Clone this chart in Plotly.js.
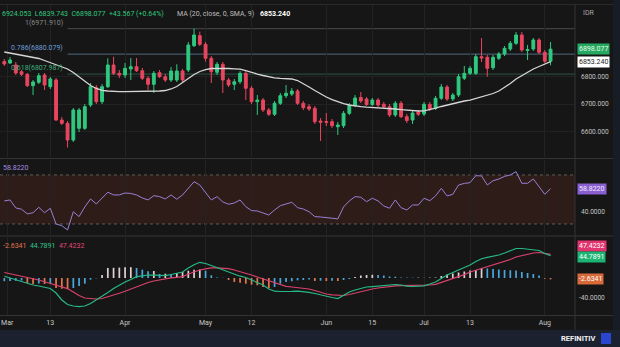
<!DOCTYPE html>
<html><head><meta charset="utf-8">
<script src="https://cdn.plot.ly/plotly-3.0.1.min.js"></script>
<style>html,body{margin:0;padding:0;background:#161616;overflow:hidden}#chart{width:620px;height:347px}</style>
</head><body><div id="chart"></div>
<script>
// ---------- data ----------
const open = [6853.4, 6848.0, 6840.8, 6816.6, 6807.2, 6766.1, 6778.3, 6804.7, 6762.5, 6786.6,
 6642.2, 6630.3, 6570.0, 6612.3, 6612.3, 6696.4, 6758.8, 6708.3, 6762.5, 6840.8,
 6810.8, 6804.7, 6826.4, 6834.7, 6820.2, 6792.8, 6771.1, 6813.0, 6798.6, 6786.6,
 6786.6, 6819.1, 6822.7, 6910.5, 6946.6, 6915.5, 6865.0, 6814.4, 6843.3, 6786.6,
 6771.1, 6780.5, 6810.8, 6756.7, 6708.3, 6714.4, 6678.3, 6662.8, 6702.5, 6730.0,
 6736.1, 6746.9, 6702.5, 6690.3, 6684.5, 6638.6, 6636.8, 6636.1, 6618.1, 6621.7,
 6666.4, 6694.6, 6723.5, 6718.1, 6698.2, 6714.4, 6698.9, 6690.3, 6660.3, 6702.5,
 6654.2, 6642.2, 6671.1, 6663.9, 6698.9, 6684.5, 6720.6, 6761.4, 6718.1, 6732.5,
 6792.8, 6810.8, 6810.8, 6870.8, 6868.6, 6831.0, 6865.0, 6880.5, 6898.6, 6919.1,
 6949.1, 6893.1, 6898.6, 6931.0, 6886.6, 6854.51];
const high = [6862.5, 6869.7, 6851.6, 6822.7, 6811.9, 6786.6, 6811.9, 6811.9, 6797.5, 6793.9,
 6653.1, 6638.6, 6685.6, 6685.6, 6700.0, 6775.8, 6768.6, 6772.2, 6865.0, 6870.8,
 6822.7, 6848.0, 6866.1, 6866.1, 6830.0, 6801.1, 6819.1, 6822.7, 6808.3, 6833.6,
 6843.3, 6826.4, 6923.8, 6971.91, 6961.0, 6923.8, 6873.3, 6851.6, 6851.6, 6793.9,
 6790.3, 6819.1, 6819.1, 6765.0, 6732.5, 6721.7, 6685.6, 6710.8, 6739.7, 6768.6,
 6757.8, 6754.2, 6710.8, 6700.0, 6692.8, 6649.5, 6667.5, 6645.8, 6635.0, 6674.7,
 6703.6, 6732.5, 6743.3, 6725.3, 6721.7, 6721.7, 6707.2, 6700.0, 6710.8, 6710.8,
 6663.9, 6674.7, 6678.3, 6707.2, 6707.2, 6728.9, 6772.2, 6768.6, 6739.7, 6808.3,
 6837.2, 6837.2, 6880.5, 6938.3, 6876.9, 6876.9, 6887.7, 6909.4, 6927.4, 6959.9,
 6959.9, 6913.0, 6938.3, 6938.3, 6894.9, 6924.053];
const low = [6837.2, 6844.4, 6804.7, 6801.1, 6761.4, 6732.5, 6772.2, 6750.5, 6754.2, 6638.6,
 6624.2, 6542.793, 6562.8, 6598.9, 6606.1, 6689.2, 6700.0, 6700.0, 6757.8, 6804.7,
 6793.9, 6793.9, 6786.6, 6815.5, 6786.6, 6750.5, 6739.7, 6793.9, 6779.4, 6779.4,
 6779.4, 6779.4, 6815.5, 6905.8, 6909.4, 6852.7, 6775.8, 6804.7, 6739.7, 6761.4,
 6750.5, 6772.2, 6714.4, 6700.0, 6660.3, 6671.1, 6656.7, 6656.7, 6696.4, 6721.7,
 6728.9, 6696.4, 6678.3, 6674.7, 6627.8, 6566.4, 6620.6, 6613.4, 6588.1, 6613.4,
 6660.3, 6689.2, 6703.6, 6692.8, 6692.8, 6689.2, 6685.6, 6653.1, 6653.1, 6649.5,
 6631.4, 6627.8, 6656.7, 6656.7, 6674.7, 6678.3, 6714.4, 6710.8, 6710.8, 6725.3,
 6786.6, 6804.7, 6804.7, 6851.6, 6798.6, 6822.7, 6858.8, 6873.3, 6891.3, 6913.0,
 6887.7, 6858.8, 6891.3, 6880.5, 6848.0, 6839.743];
const close = [6844.4, 6858.8, 6811.9, 6807.2, 6766.1, 6779.4, 6802.2, 6768.6, 6790.3, 6642.2,
 6630.3, 6570.0, 6678.3, 6678.3, 6690.3, 6762.5, 6708.3, 6762.5, 6840.8, 6810.8,
 6804.7, 6828.9, 6834.7, 6820.2, 6792.8, 6771.1, 6810.8, 6798.6, 6786.6, 6819.1,
 6819.1, 6786.6, 6913.0, 6949.1, 6915.5, 6865.0, 6816.6, 6843.3, 6786.6, 6768.6,
 6780.5, 6810.8, 6756.7, 6708.3, 6714.4, 6678.3, 6662.8, 6702.5, 6730.0, 6738.6,
 6746.9, 6702.5, 6686.6, 6681.9, 6636.1, 6633.9, 6633.9, 6621.7, 6624.2, 6666.4,
 6694.6, 6721.7, 6710.8, 6698.2, 6714.4, 6696.4, 6690.3, 6660.3, 6702.5, 6654.2,
 6640.4, 6667.5, 6662.8, 6698.9, 6681.9, 6720.6, 6761.4, 6718.1, 6732.5, 6798.6,
 6810.8, 6828.9, 6870.8, 6866.1, 6828.9, 6868.6, 6880.5, 6901.1, 6919.1, 6949.1,
 6894.9, 6896.7, 6931.0, 6886.6, 6854.5, 6898.077];
const ma20 = [6887.7, 6884.1, 6880.5, 6876.9, 6873.3, 6869.7, 6864.3, 6857.0, 6849.8, 6842.6,
 6835.4, 6826.4, 6813.7, 6797.5, 6781.2, 6766.8, 6756.0, 6749.5, 6746.9, 6745.1,
 6744.4, 6744.4, 6744.4, 6744.4, 6745.1, 6745.8, 6746.9, 6746.9, 6748.7, 6754.2,
 6763.2, 6777.6, 6792.8, 6806.5, 6817.3, 6824.5, 6828.2, 6828.9, 6828.9, 6828.2,
 6827.1, 6825.6, 6820.9, 6813.7, 6808.3, 6802.9, 6797.5, 6794.6, 6792.8, 6791.3,
 6790.3, 6784.8, 6774.0, 6761.4, 6748.7, 6736.1, 6725.3, 6716.2, 6708.3, 6701.8,
 6696.4, 6692.8, 6690.3, 6688.4, 6687.4, 6686.6, 6685.6, 6684.5, 6681.9, 6679.4,
 6677.6, 6676.2, 6674.7, 6675.5, 6679.1, 6684.8, 6691.0, 6696.4, 6701.8, 6707.2,
 6710.8, 6714.4, 6719.9, 6725.3, 6730.7, 6737.9, 6746.9, 6759.6, 6774.0, 6790.3,
 6802.9, 6815.5, 6826.4, 6835.4, 6844.4, 6853.24];
const rsi = [48.8, 49.6, 43.1, 42.0, 38.2, 39.2, 43.6, 39.2, 42.8, 30.0,
 28.6, 25.1, 40.0, 36.0, 43.9, 50.4, 46.3, 51.2, 55.9, 53.7,
 53.7, 55.3, 54.9, 53.7, 51.2, 49.6, 53.1, 52.3, 50.4, 53.7,
 50.2, 53.7, 59.4, 64.5, 61.8, 55.3, 49.6, 52.3, 48.0, 46.1,
 47.1, 49.6, 44.1, 40.9, 40.6, 39.0, 37.3, 41.4, 44.9, 46.3,
 47.7, 43.3, 42.2, 40.0, 36.0, 35.7, 35.5, 34.7, 34.1, 43.9,
 48.8, 52.3, 51.8, 48.2, 51.0, 48.8, 44.7, 42.8, 49.6, 43.3,
 41.4, 45.5, 45.5, 51.0, 49.0, 52.9, 59.1, 52.9, 54.2, 61.8,
 63.1, 63.7, 69.4, 69.2, 61.8, 65.3, 66.7, 68.8, 70.0, 72.7,
 63.2, 63.2, 66.7, 60.2, 54.2, 58.822];
const macd = [3.4, 0, -4, -6.6, -10, -14, -16, -18, -21, -30,
 -44, -53, -56, -57.4, -56, -51, -44, -37, -29, -21,
 -14, -8, -3, 2.6, 4.4, 6, 5.6, 5, 4.6, 7,
 9.4, 12, 20, 26.6, 31.4, 29, 25, 20.6, 16, 11.4,
 6.8, 3.6, 1, -4, -9, -14, -22, -26.4, -27, -27.4,
 -26.8, -26.4, -27.2, -28.6, -31, -34, -37, -39, -41, -34,
 -28, -24, -21, -18, -17.2, -16.4, -15.6, -15, -13, -14,
 -16.4, -17, -16.4, -15.6, -12, -8, -1, 6, 11, 16,
 19.4, 26, 33, 38.6, 41.4, 43.4, 46, 50, 55, 59,
 59, 57.6, 56.4, 55, 49, 44.7891];
const signal = [11, 8.4, 6, 4, 1.6, -0.6, -4, -7.6, -11, -14.4,
 -18, -21.2, -28, -35, -40, -41.2, -42, -41, -38, -35,
 -30.6, -26.6, -22, -18, -13.6, -9, -6, -3.6, -0.8, 0.2,
 1.4, 2.6, 8, 12, 16, 18.4, 20.4, 20.4, 19.8, 18.6,
 16, 13, 10, 6, 2, -2, -6, -10, -14, -16.6,
 -18, -19.2, -20.6, -22, -25, -28.6, -32, -33.6, -34.6, -35,
 -33, -30, -27.2, -24.6, -22, -20, -18.4, -17, -15.6, -15.4,
 -15.4, -15.4, -15.4, -15.2, -14, -12.8, -9, -5, -2, 2,
 6.8, 12, 15.6, 19, 22, 25.6, 29, 33, 37, 42,
 44.6, 47, 50, 51, 49.4, 47.4232];
const hist = [-6.4, -6, -5.6, -5, -10, -12, -11, -12, -11.6, -20,
 -21.4, -22.6, -20, -16, -11.4, -3.4, -0.6, 6, 20, 20.4,
 20.8, 21.4, 21.6, 20, 16.6, 13.4, 14, 8, 8.6, 8,
 10, 12, 14.6, 16.6, 16.8, 14.6, 5.4, 1, 0.4, -4,
 -8, -9.4, -11.4, -13.4, -14.6, -18, -20, -18, -11.4, -8,
 -6.6, -4.6, -4, -3, -6, -5.4, -6, -5.4, -6, -4,
 -2, 2, 5, 6, 6.4, 6, 5, 3, 2.6, 1,
 0.8, 0.6, 0.8, 0.6, 0.8, 1, 4, 7, 9, 11,
 13, 15, 16, 20, 19, 18, 17, 16, 15.6, 15,
 12, 10, 8, 5, -1.4, -2.6341];

const tickIdx = [0.5, 8, 21, 35, 43, 56, 64, 73, 81, 94];
const tickLbl = ['Mar', '13', 'Apr', 'May', '12', 'Jun', '15', 'Jul', '13', 'Aug'];
const priceTicks = [6600, 6700, 6800];
const rsiTicks = [40];
const macdTicks = [-40];
const fibLevels = [6971.910, 6880.079, 6807.987];
const fibNames = ['1', '0.786', '0.618'];
const fibStart = 11;
const headerHigh = 6924.053, headerLow = 6839.743, headerClose = 6898.077;
const headerChg = '+43.567 (+0.64%)';

// ---------- drawing ----------
const xIdx = close.map((_, i) => i);
const xRange = [-0.75, 99.25];
const GREEN = '#2fc97f', RED = '#e8465f';
const P = px => (315 - px) / 310;   // page pixel -> paper y
const X = px => px / 575;           // page pixel -> paper x
const last = a => a[a.length - 1];

const histColors = hist.map((v, i) => {
  const prev = i > 0 ? hist[i - 1] : v;
  if (v >= 0) return v >= prev ? '#dcd0d3' : '#4aa6dc';
  return v < prev ? '#e2774f' : '#4aa6dc';
});

const traces = [
  {type: 'candlestick', x: xIdx, open, high, low, close, xaxis: 'x', yaxis: 'y',
   increasing: {line: {color: GREEN, width: 1}, fillcolor: GREEN},
   decreasing: {line: {color: RED, width: 1}, fillcolor: RED},
   whiskerwidth: 0, hoverinfo: 'skip'},
  {type: 'scatter', mode: 'lines', x: xIdx, y: ma20, xaxis: 'x', yaxis: 'y',
   line: {color: '#d6d6d6', width: 1.3}, hoverinfo: 'skip'},
  {type: 'scatter', mode: 'lines', x: xIdx, y: rsi, xaxis: 'x', yaxis: 'y2',
   line: {color: '#9b7fd6', width: 1}, hoverinfo: 'skip'},
  {type: 'bar', x: xIdx, y: hist, xaxis: 'x', yaxis: 'y3', width: 0.3,
   marker: {color: histColors, line: {width: 0}}, hoverinfo: 'skip'},
  {type: 'scatter', mode: 'lines', x: xIdx, y: signal, xaxis: 'x', yaxis: 'y3',
   line: {color: '#d8426c', width: 1.2}, hoverinfo: 'skip'},
  {type: 'scatter', mode: 'lines', x: xIdx, y: macd, xaxis: 'x', yaxis: 'y3',
   line: {color: '#27b985', width: 1.2}, hoverinfo: 'skip'}
];

const sep = '#343434';
const fibLineCol = ['#4a4a4a', '#50697e', '#2c5645'];
const fibTextCol = ['#8a8a8a', '#6c9fd6', '#3fae7d'];
const shapes = [
  {type: 'rect', xref: 'paper', yref: 'y2', x0: 0, x1: 1, y0: 30, y1: 70,
   fillcolor: 'rgba(90,40,25,0.34)', line: {width: 0}, layer: 'below'},
  {type: 'line', xref: 'paper', yref: 'y2', x0: 0, x1: 1, y0: 30, y1: 30,
   line: {color: '#5c5c5c', width: 1, dash: 'dot'}, layer: 'below'},
  {type: 'line', xref: 'paper', yref: 'y2', x0: 0, x1: 1, y0: 70, y1: 70,
   line: {color: '#5c5c5c', width: 1, dash: 'dot'}, layer: 'below'},
  ...fibLevels.map((lv, k) => ({type: 'line', xref: 'x', yref: 'y', x0: fibStart, x1: xRange[1],
    y0: lv, y1: lv, line: {color: fibLineCol[k], width: 1}, layer: 'below'})),
  {type: 'line', xref: 'paper', yref: 'paper', x0: 0, x1: X(620), y0: P(158.5), y1: P(158.5), line: {color: sep, width: 1}},
  {type: 'line', xref: 'paper', yref: 'paper', x0: 0, x1: X(620), y0: P(236), y1: P(236), line: {color: sep, width: 1}},
  {type: 'line', xref: 'paper', yref: 'paper', x0: 0, x1: X(620), y0: P(315.5), y1: P(315.5), line: {color: sep, width: 1}},
  {type: 'line', xref: 'paper', yref: 'paper', x0: 0, x1: X(620), y0: P(4.5), y1: P(4.5), line: {color: '#2a2a2a', width: 1}},
  {type: 'line', xref: 'paper', yref: 'paper', x0: 1, x1: 1, y0: P(330), y1: P(4.5), line: {color: sep, width: 1}},
  {type: 'rect', xref: 'paper', yref: 'paper', x0: X(613), x1: X(621), y0: P(330), y1: P(0),
   fillcolor: '#181c25', line: {width: 0}},
  {type: 'rect', xref: 'paper', yref: 'paper', x0: X(-2), x1: X(622), y0: P(349), y1: P(330),
   fillcolor: '#1c2130', line: {width: 0}},
  {type: 'rect', xref: 'paper', yref: 'paper', x0: X(601), x1: X(611), y0: P(344), y1: P(333),
   fillcolor: '#2a46cf', line: {width: 0}}
];

function tag(text, yref, y, bg, fg, yshift) {
  return {xref: 'paper', x: 1, xanchor: 'left', xshift: 2, yref: yref, y: y, yanchor: 'middle',
    yshift: yshift || 0, text: text, showarrow: false, bgcolor: bg, borderpad: 1,
    font: {color: fg, size: 7}};
}
const NB = '\u00A0';
const annotations = [
  {xref: 'paper', yref: 'paper', x: 0, y: P(14), xanchor: 'left', yanchor: 'middle', showarrow: false,
   font: {size: 7, color: GREEN},
   text: headerHigh.toFixed(3) + NB + NB + 'L' + headerLow.toFixed(3) + NB + NB + 'C' + headerClose.toFixed(3) + NB + NB + headerChg},
  {xref: 'paper', yref: 'paper', x: X(175), y: P(14), xanchor: 'left', yanchor: 'middle', showarrow: false,
   font: {size: 7, color: '#bdbdbd'}, text: 'MA (20, close, 0, SMA, 9)'},
  {xref: 'paper', yref: 'paper', x: X(258), y: P(14), xanchor: 'left', yanchor: 'middle', showarrow: false,
   font: {size: 7, color: '#ffffff'}, text: '<b>' + last(ma20).toFixed(3) + '</b>'},
  ...fibLevels.map((lv, k) => ({xref: 'x', yref: 'y', x: fibStart, y: lv, xanchor: 'right', yanchor: 'bottom',
    xshift: -3, yshift: 0, showarrow: false, font: {size: 7, color: fibTextCol[k]},
    text: fibNames[k] + '(' + lv.toFixed(3) + ')'})),
  {xref: 'paper', yref: 'paper', x: 1, xshift: 6, y: P(13), xanchor: 'left', yanchor: 'middle', showarrow: false,
   font: {size: 7, color: '#a8a8a8'}, text: 'IDR'},
  tag(last(close).toFixed(3), 'y', last(close), '#26a862', '#e6fbe9'),
  tag(last(ma20).toFixed(3), 'y', last(ma20), '#ffffff', '#1a1a1a'),
  tag(last(rsi).toFixed(4), 'y2', last(rsi), '#8a5fd0', '#f1eaff'),
  tag(last(signal).toFixed(4), 'y3', last(signal), '#e23570', '#ffffff', 8),
  tag(last(macd).toFixed(4), 'y3', last(macd), '#1bb473', '#ffffff', -1),
  tag(last(hist).toFixed(4), 'y3', last(hist), '#d86a3a', '#ffffff'),
  {xref: 'paper', yref: 'paper', x: X(1), y: P(168), xanchor: 'left', yanchor: 'middle', showarrow: false,
   font: {size: 7, color: '#a58ae0'}, text: last(rsi).toFixed(4)},
  {xref: 'paper', yref: 'paper', x: X(1), y: P(246), xanchor: 'left', yanchor: 'middle', showarrow: false,
   font: {size: 7},
   text: '<span style="color:#e2774f">' + last(hist).toFixed(4) + '</span>' + NB + NB +
         '<span style="color:#2ec48c">' + last(macd).toFixed(4) + '</span>' + NB + NB +
         '<span style="color:#e0457a">' + last(signal).toFixed(4) + '</span>'},
  {xref: 'paper', yref: 'paper', x: X(598), y: P(338.5), xanchor: 'right', yanchor: 'middle', showarrow: false,
   font: {size: 7.5, color: '#f2f2f2'}, text: '<b>REFINITIV</b>'}
];

const axFont = {size: 6.6, color: '#c4c4c4'};
const layout = {
  width: 620, height: 347,
  margin: {l: 0, r: 45, t: 5, b: 32, pad: 0},
  paper_bgcolor: '#161616', plot_bgcolor: '#161616',
  showlegend: false, dragmode: false, hovermode: false,
  font: {family: 'Roboto, "Open Sans", sans-serif', size: 7, color: '#c8c8c8'},
  xaxis: {domain: [0, 1], anchor: 'y3', range: xRange, tickvals: tickIdx, ticktext: tickLbl,
    ticks: '', showgrid: true, gridcolor: '#232323', gridwidth: 1, zeroline: false, showline: false,
    rangeslider: {visible: false}, tickfont: {size: 7, color: '#c8c8c8'}, ticklabelstandoff: 2,
    ticklabeloverflow: 'allow', fixedrange: true},
  yaxis: {domain: [P(157), 1], anchor: 'x', side: 'right', range: [6508.7, 7057.4],
    tickvals: priceTicks, ticktext: priceTicks.map(v => v.toFixed(3)), ticks: '',
    showgrid: true, gridcolor: '#222222', zeroline: false, showline: false, tickfont: axFont, ticklabelstandoff: 5},
  yaxis2: {domain: [P(235), P(160)], anchor: 'x', side: 'right', range: [21.0, 82.2],
    tickvals: rsiTicks, ticktext: rsiTicks.map(v => v.toFixed(4)), ticks: '',
    showgrid: false, zeroline: false, showline: false, tickfont: axFont, ticklabelstandoff: 5},
  yaxis3: {domain: [0, P(237)], anchor: 'x', side: 'right', range: [-74, 82],
    tickvals: macdTicks, ticktext: macdTicks.map(v => v.toFixed(4)), ticks: '',
    showgrid: false, zeroline: false, showline: false, tickfont: axFont, ticklabelstandoff: 3},
  shapes: shapes,
  annotations: annotations
};

Plotly.newPlot('chart', traces, layout, {staticPlot: true, displayModeBar: false});
</script>
</body></html>
